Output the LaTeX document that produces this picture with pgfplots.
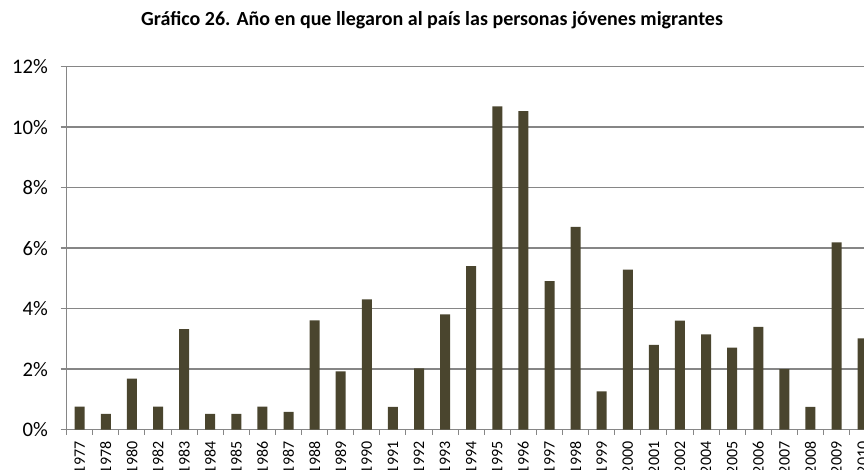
\documentclass[border=0pt]{standalone}
\usepackage{pgfplots}
\pgfplotsset{compat=1.18}
\usepackage{fontspec}
\setmainfont{Carlito}
\definecolor{barc}{RGB}{74,69,46}
\definecolor{gridc}{RGB}{134,134,134}
\begin{document}
\begin{tikzpicture}
\begin{axis}[
  at={(50pt,29.6pt)}, anchor=south west,
  scale only axis,
  width=606.8pt, height=272.25pt,
  xmin=-0.5, xmax=30.5,
  ymin=0, ymax=12,
  ytick={0,2,4,6,8,10,12},
  yticklabels={0\%,2\%,4\%,6\%,8\%,10\%,12\%},
  xtick={0,...,30},
  xticklabels={1977,1978,1980,1982,1983,1984,1985,1986,1987,1988,1989,1990,1991,1992,1993,1994,1995,1996,1997,1998,1999,2000,2001,2002,2004,2005,2006,2007,2008,2009,2010},
  minor xtick={-0.5,0.5,...,30.5},
  x tick style={draw=none},
  minor x tick style={draw=gridc, line width=0.8pt},
  y tick style={draw=gridc, line width=1pt},
  tick align=outside,
  major tick length=4.5pt,
  minor tick length=4pt,
  ymajorgrids,
  grid style={gridc, line width=1pt},
  axis x line*=bottom,
  axis y line*=left,
  axis line style={gridc, line width=1pt},
  x axis line style={-},
  y axis line style={-},
  xticklabel style={rotate=90, anchor=east, font=\fontsize{12}{12}\selectfont, xshift=-1pt},
  yticklabel style={font=\fontsize{15.5}{16}\selectfont, xshift=-6pt},
  /pgf/number format/assume math mode=true,
]
\addplot[ybar, bar width=7.5pt, fill=barc, draw=none] coordinates {
(0,0.76) (1,0.52) (2,1.68) (3,0.76) (4,3.32) (5,0.52) (6,0.52) (7,0.76) (8,0.58) (9,3.61)
(10,1.92) (11,4.30) (12,0.75) (13,2.02) (14,3.81) (15,5.40) (16,10.68) (17,10.53) (18,4.91) (19,6.70)
(20,1.26) (21,5.29) (22,2.80) (23,3.60) (24,3.15) (25,2.71) (26,3.39) (27,2.00) (28,0.75) (29,6.19) (30,3.01)
};
\end{axis}
\node[font=\bfseries\fontsize{15}{17}\selectfont] at (324pt,336.5pt) {Gráfico 26. Año en que llegaron al país las personas jóvenes migrantes};
\pgfresetboundingbox
\useasboundingbox (0,0) rectangle (648pt,351.75pt);
\end{tikzpicture}
\end{document}
